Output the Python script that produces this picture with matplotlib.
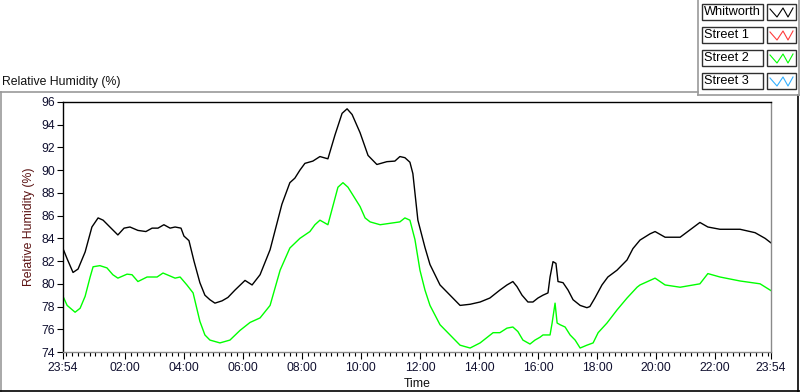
import matplotlib
matplotlib.use("Agg")
import matplotlib.pyplot as plt
from matplotlib.lines import Line2D
from matplotlib.patches import Rectangle
import numpy as np

plt.rcParams['font.family'] = ['Liberation Sans', 'DejaVu Sans']

# hours since 23:54 and relative humidity (%)
whit_t = [0.00, 0.14, 0.34, 0.51, 0.75, 0.98, 1.19, 1.36, 1.59, 1.86, 2.07, 2.27, 2.54, 2.81,
          3.02, 3.22, 3.42, 3.63, 3.80, 4.00, 4.10, 4.27, 4.44, 4.64, 4.81, 4.98, 5.15, 5.39,
          5.59, 5.83, 6.17, 6.41, 6.68, 7.02, 7.22, 7.42, 7.69, 7.86, 8.03, 8.20, 8.47, 8.71,
          8.98, 9.22, 9.46, 9.63, 9.80, 10.07, 10.34, 10.64, 10.98, 11.25, 11.42, 11.59, 11.76,
          11.86, 12.03, 12.27, 12.44, 12.78, 13.12, 13.46, 13.80, 14.14, 14.47, 14.81, 15.05,
          15.25, 15.39, 15.56, 15.76, 15.93, 16.10, 16.27, 16.44, 16.51, 16.61, 16.71, 16.78,
          16.95, 17.12, 17.29, 17.53, 17.76, 17.86, 18.03, 18.27, 18.47, 18.78, 19.12, 19.32,
          19.56, 19.90, 20.07, 20.41, 20.92, 21.59, 21.86, 22.27, 22.95, 23.46, 23.80, 24.00]
whit_rh = [83.1, 82.2, 81.0, 81.3, 82.8, 85.0, 85.8, 85.6, 85.0, 84.3, 84.9, 85.0, 84.7, 84.6,
           84.9, 84.9, 85.2, 84.9, 85.0, 84.9, 84.2, 83.8, 82.0, 80.1, 79.0, 78.6, 78.3, 78.5,
           78.8, 79.45, 80.3, 79.9, 80.8, 83.0, 85.0, 87.0, 88.9, 89.3, 90.0, 90.6, 90.8, 91.2,
           91.0, 93.1, 95.0, 95.4, 94.9, 93.3, 91.3, 90.5, 90.75, 90.8, 91.2, 91.1, 90.7,
           89.7, 85.6, 83.2, 81.7, 79.9, 79.0, 78.1, 78.2, 78.4, 78.75, 79.45, 79.9,
           80.2, 79.75, 79.0, 78.4, 78.4, 78.75, 79.0, 79.2, 80.6, 81.95, 81.8, 80.2,
           80.1, 79.45, 78.6, 78.1, 77.9, 78.0, 78.75, 79.9, 80.6, 81.2, 82.1, 83.1,
           83.85, 84.4, 84.6, 84.1, 84.1, 85.4, 85.0, 84.8, 84.8, 84.5, 84.0, 83.6]

st2_t = [0.00, 0.14, 0.41, 0.58, 0.75, 0.92, 1.02, 1.25, 1.49, 1.69, 1.86, 2.17, 2.34, 2.54,
         2.85, 3.19, 3.39, 3.80, 3.97, 4.20, 4.41, 4.64, 4.81, 4.98, 5.32, 5.66, 6.00, 6.34,
         6.68, 7.02, 7.36, 7.69, 8.03, 8.37, 8.54, 8.71, 8.98, 9.32, 9.49, 9.66, 10.07, 10.24,
         10.41, 10.75, 11.42, 11.59, 11.76, 11.93, 12.10, 12.27, 12.44, 12.78, 13.12, 13.46,
         13.80, 14.14, 14.58, 14.81, 15.05, 15.25, 15.42, 15.59, 15.83, 16.00, 16.17, 16.27,
         16.51, 16.58, 16.68, 16.75, 16.85, 17.02, 17.19, 17.36, 17.53, 17.76, 17.97, 18.14,
         18.44, 18.78, 19.12, 19.46, 19.56, 19.90, 20.07, 20.41, 20.92, 21.59, 21.86, 22.27,
         22.95, 23.63, 24.00]
st2_rh = [78.9, 78.1, 77.5, 77.85, 78.9, 80.6, 81.5, 81.6, 81.4, 80.8, 80.5, 80.85, 80.8, 80.2,
          80.6, 80.6, 80.95, 80.5, 80.6, 79.9, 79.2, 76.7, 75.5, 75.05, 74.8, 75.05, 75.9, 76.6,
          77.0, 78.1, 81.2, 83.15, 84.0, 84.6, 85.2, 85.6, 85.2, 88.5, 88.9, 88.5, 86.8, 85.8,
          85.45, 85.2, 85.45, 85.8, 85.6, 83.9, 81.2, 79.45, 78.1, 76.4, 75.5, 74.6,
          74.35, 74.8, 75.7, 75.7, 76.1, 76.2, 75.8, 75.05, 74.7, 75.05, 75.3, 75.5,
          75.5, 76.55, 78.3, 76.55, 76.4, 76.2, 75.5, 75.05, 74.35, 74.6, 74.8, 75.7,
          76.55, 77.7, 78.75, 79.7, 79.9, 80.3, 80.5, 79.9, 79.7, 80.0, 80.9, 80.6,
          80.25, 80.0, 79.4]

series_names = ["Whitworth", "Street 1", "Street 2", "Street 3"]
series_colors = ["#000000", "#ff3b3b", "#00ff00", "#33b0ff"]

tick_pos = [0, 2.1, 4.1, 6.1, 8.1, 10.1, 12.1, 14.1, 16.1, 18.1, 20.1, 22.1, 24]
tick_lab = ["23:54", "02:00", "04:00", "06:00", "08:00", "10:00", "12:00",
            "14:00", "16:00", "18:00", "20:00", "22:00", "23:54"]

W, H = 800, 392
fig = plt.figure(figsize=(8, 3.92), dpi=100)
fig.patch.set_facecolor("white")

def fx(x):
    return x / W

def fy(y):
    return 1 - y / H

ax = fig.add_axes([fx(63), fy(352), fx(771) - fx(63), fy(102) - fy(352)])
ax.plot(whit_t, whit_rh, color=series_colors[0], lw=1.0)
ax.plot(st2_t, st2_rh, color=series_colors[2], lw=1.0)
ax.set_xlim(0, 24)
ax.set_ylim(74, 96)
ax.set_yticks(np.arange(74, 97, 2))
ax.set_xticks(tick_pos)
ax.set_xticklabels(tick_lab)
ax.set_xticks(np.arange(0.1, 24, 0.2), minor=True)
ax.tick_params(axis="both", which="major", labelsize=8.8, labelcolor="#101030",
               color="black", direction="out", length=4, width=0.8, pad=2)
ax.tick_params(axis="x", which="major", length=5)
ax.tick_params(axis="x", which="minor", length=3, width=0.8, color="black")
for s in ["top", "left"]:
    ax.spines[s].set_color("black")
    ax.spines[s].set_linewidth(1.0)
for s in ["bottom", "right"]:
    ax.spines[s].set_color("#8a8a8a")
    ax.spines[s].set_linewidth(1.0)
ax.set_xlabel("Time", fontsize=8.8, color="#101010", labelpad=3)
ax.set_ylabel("Relative Humidity (%)", fontsize=8.8, color="#5a1010", labelpad=4)

# panel title and frame
fig.text(fx(2), fy(82), "Relative Humidity (%)", fontsize=8.8, color="#101010", va="center", ha="left")
gray = "#9a9a9a"
fig.add_artist(Line2D([fx(0), fx(698)], [fy(92), fy(92)], color=gray, lw=1.2))
fig.add_artist(Line2D([fx(1), fx(1)], [fy(92), fy(392)], color=gray, lw=1.2))
fig.add_artist(Line2D([fx(0), fx(800)], [fy(391), fy(391)], color="black", lw=1.2))
fig.add_artist(Line2D([fx(797.5), fx(797.5)], [fy(95), fy(392)], color="black", lw=1.2))
fig.add_artist(Line2D([fx(698), fx(698)], [fy(0), fy(95)], color=gray, lw=1.2))
fig.add_artist(Line2D([fx(698), fx(800)], [fy(95), fy(95)], color=gray, lw=1.2))
fig.add_artist(Line2D([fx(799), fx(799)], [fy(0), fy(95)], color=gray, lw=1.2))

# legend boxes
for i, (name, col) in enumerate(zip(series_names, series_colors)):
    top = 4 + i * 23
    bot = top + 16
    fig.add_artist(Rectangle((fx(702), fy(bot)), fx(763) - fx(702), fy(top) - fy(bot),
                             facecolor="white", edgecolor="#303030", lw=1.0))
    fig.text(fx(704), fy((top + bot) / 2), name, fontsize=9.2, color="black",
             va="center", ha="left")
    fig.add_artist(Rectangle((fx(767), fy(bot)), fx(796) - fx(767), fy(top) - fy(bot),
                             facecolor="white", edgecolor="#303030", lw=1.0))
    zx = [770, 777, 783, 788, 793]
    zy = [top + 5, bot - 3, top + 4, bot - 3, top + 4]
    fig.add_artist(Line2D([fx(v) for v in zx], [fy(v) for v in zy], color=col, lw=0.8))

fig.savefig("out.png", dpi=100, facecolor="white")
